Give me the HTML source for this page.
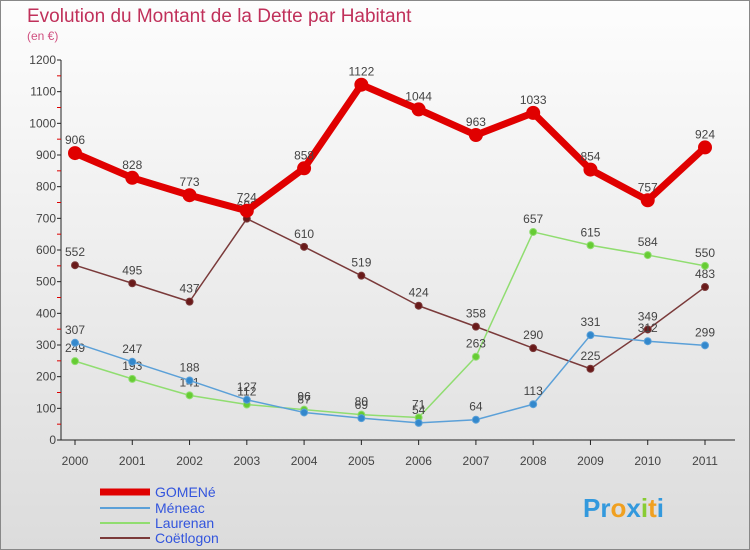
<!DOCTYPE html>
<html><head><meta charset="utf-8"><style>
body{margin:0;width:750px;height:550px;overflow:hidden;font-family:"Liberation Sans",sans-serif}
svg{display:block}
</style></head><body>
<svg width="750" height="550" xmlns="http://www.w3.org/2000/svg">
<defs><linearGradient id="bg" x1="0" y1="0" x2="0" y2="1"><stop offset="0" stop-color="#fdfdfd"/><stop offset="1" stop-color="#dcdcdc"/></linearGradient></defs>
<rect x="0.5" y="0.5" width="749" height="549" fill="url(#bg)" stroke="#888"/>
<text x="27" y="22" font-size="19" fill="#c0305a">Evolution du Montant de la Dette par Habitant</text>
<text x="27" y="40" font-size="12" fill="#d05080">(en €)</text>
<g id="axes"></g><g id="series"></g>
<g font-size="14">
<line x1="100" y1="492" x2="150" y2="492" stroke="#e00000" stroke-width="7"/>
<text x="155" y="497" fill="#3355dd">GOMENé</text>
<line x1="100" y1="508" x2="150" y2="508" stroke="#5ba0d8" stroke-width="2"/>
<text x="155" y="513" fill="#3355dd">Méneac</text>
<line x1="100" y1="523" x2="150" y2="523" stroke="#90dd70" stroke-width="2"/>
<text x="155" y="528" fill="#3355dd">Laurenan</text>
<line x1="100" y1="538" x2="150" y2="538" stroke="#7a3a3a" stroke-width="2"/>
<text x="155" y="543" fill="#3355dd">Coëtlogon</text>
</g>
<text x="583" y="517" font-size="26" font-weight="bold"><tspan fill="#3399dd">Pr</tspan><tspan fill="#f0a020">o</tspan><tspan fill="#3399dd">x</tspan><tspan fill="#88cc33">i</tspan><tspan fill="#f0a020">t</tspan><tspan fill="#3399dd">i</tspan></text>
</svg>
<script>
const years=[2000,2001,2002,2003,2004,2005,2006,2007,2008,2009,2010,2011];
const yTicks=[0,100,200,300,400,500,600,700,800,900,1000,1100,1200];
const gomene=[906,828,773,724,858,1122,1044,963,1033,854,757,924];
const meneac=[307,247,188,127,87,69,54,64,113,331,312,299];
const laurenan=[249,193,141,112,96,80,71,263,657,615,584,550];
const coetlogon=[552,495,437,699,610,519,424,358,290,225,349,483];
const NS="http://www.w3.org/2000/svg";
const X=i=>75+i*(630/11), Y=v=>440-v*(380/1200);
function mk(t,a,p){const e=document.createElementNS(NS,t);for(const k in a)e.setAttribute(k,a[k]);p.appendChild(e);return e;}
const ax=document.getElementById('axes');
let l=mk('line',{x1:61,y1:Y(0),x2:61,y2:Y(1200),stroke:'#222'},ax);


l=mk('line',{x1:61,y1:Y(0),x2:735,y2:Y(0),stroke:'#222'},ax);


yTicks.forEach(v=>{mk('line',{x1:57,y1:Y(v),x2:61,y2:Y(v),stroke:'#222'},ax);
 if(v<1200)mk('line',{x1:57,y1:Y(v+50),x2:61,y2:Y(v+50),stroke:'#d00'},ax);
 const t=mk('text',{x:56,y:Y(v)+4,'text-anchor':'end','font-size':12,fill:'#444'},ax);t.textContent=v;
 
 });
years.forEach((y,i)=>{mk('line',{x1:X(i),y1:Y(0),x2:X(i),y2:Y(0)+5,stroke:'#222'},ax);
 const t=mk('text',{x:X(i),y:Y(0)+25,'text-anchor':'middle','font-size':12,fill:'#444'},ax);t.textContent=y;
 
 });
const sg=document.getElementById('series');
function series(d,name,col,w,r,dot){const g=mk('g',{},sg);
 
 
 mk('polyline',{points:d.map((v,i)=>X(i)+','+Y(v)).join(' '),fill:'none',stroke:col,'stroke-width':w,'stroke-linejoin':'round'},g);
 d.forEach((v,i)=>{const c=mk('circle',{cx:X(i),cy:Y(v),r:r,fill:dot,stroke:col,'stroke-width':1},g);
  
  
  const t=mk('text',{x:X(i),y:Y(v)-9,'text-anchor':'middle','font-size':12,fill:'#444'},g);t.textContent=v;
  
  });}
series(coetlogon,'coetlogon','#7a3a3a',1.5,3.5,'#6a1a1a');
series(laurenan,'laurenan','#90dd70',1.5,3.5,'#66cc33');
series(meneac,'meneac','#5ba0d8',1.5,3.5,'#3388cc');
series(gomene,'gomene','#e00000',7,6.5,'#e00000');
</script>
</body></html>
